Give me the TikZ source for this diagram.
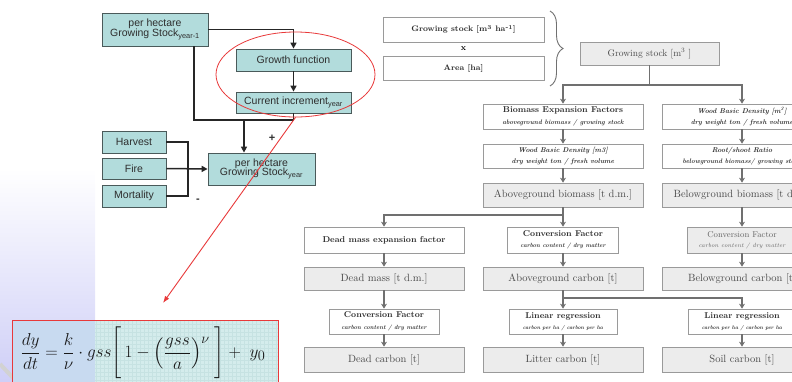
\documentclass[tikz,border=0pt]{standalone}
\usepackage{fontspec}
\usepackage{amsmath}
\newfontfamily\lsans{Liberation Sans}
\usetikzlibrary{arrows.meta,shapes.geometric,decorations.pathreplacing,calc}
\definecolor{tealf}{HTML}{B2DCDC}
\definecolor{tealb}{HTML}{4A5A5A}
\definecolor{gfill}{HTML}{ECECEC}
\definecolor{gline}{HTML}{9A9A9A}
\definecolor{garrc}{HTML}{707070}
\definecolor{txt}{HTML}{2E2E2E}
\definecolor{gtxt}{HTML}{4A4A4A}
\definecolor{cftxt}{HTML}{666666}
\definecolor{lav}{HTML}{CFCFF7}
\definecolor{fmlf}{HTML}{D4ECEC}
\definecolor{fmlg}{HTML}{C6E2E2}
\definecolor{fmlb}{HTML}{C8DAF0}
\definecolor{redl}{HTML}{E8393A}
\newcommand\fs[1]{\fontsize{#1}{#1}\selectfont}
\begin{document}
\begin{tikzpicture}[x=1pt,y=-1pt,
 tbox/.style={draw=tealb,fill=tealf,line width=0.8pt,inner sep=0pt,align=center,text=txt,font=\lsans\fs{10.5}},
 wbox/.style={draw=gline,fill=white,line width=0.7pt,inner sep=0pt,align=center,text=txt},
 gbox/.style={draw=gline,fill=gfill,line width=0.7pt,inner sep=0pt,align=center,text=gtxt,font=\fs{10.5}},
 blk/.style={line width=1.5pt,black!85},
 blka/.style={blk,-{Triangle[length=6pt,width=6pt]}},
 gl/.style={line width=1.2pt,garrc},
 ga/.style={gl,-{Stealth[length=5pt,width=6pt]}},
 bt/.style={font=\bfseries\fs{8.5}},
]
\useasboundingbox (0,0) rectangle (792,381);
\clip (0,0) rectangle (792,381);
% background strip
\shade[top color=white,bottom color=lav] (0,168) rectangle (95,381);
\draw[gray!35,line width=4pt] (0,364) -- (16,381);

% ---------- left flowchart ----------
\node[tbox,minimum width=106pt,minimum height=33pt] (gs1) at (155,29.5) {per hectare\\[-1pt]Growing Stock\textsubscript{year-1}};
\node[tbox,minimum width=115pt,minimum height=22pt] (gf) at (293.5,60) {Growth function};
\node[tbox,minimum width=115pt,minimum height=21pt] (ci) at (293.5,102.5) {Current increment\textsubscript{year}};
\node[tbox,minimum width=64pt,minimum height=22pt] (harv) at (134,142) {Harvest};
\node[tbox,minimum width=64pt,minimum height=21pt] (fire) at (134,168.5) {Fire};
\node[tbox,minimum width=64pt,minimum height=22pt] (mort) at (134,196) {Mortality};
\node[tbox,minimum width=107pt,minimum height=32pt] (gsy) at (261.5,169) {per hectare\\[-1pt]Growing Stock\textsubscript{year}};
\coordinate (jA) at (194,120);
\coordinate (jB) at (244,120);
\coordinate (jC) at (188,168.5);
\draw[blka] (gs1.east) -| (gf.north);
\draw[blka] (gf.south) -- (ci.north);
\draw[blk] (gs1.south -| jA) -- (jA) -- (ci.south |- jA) -- (ci.south);
\draw[blka] (jB) -- (gsy.north -| jB);
\draw[blk] (harv.east) -| (jC);
\draw[blk] (mort.east) -| (jC);
\draw[blka] (fire.east) -- (gsy.west);
\node[font=\lsans\bfseries\fs{11},text=txt] (plus) at (272,138) {+};
\node[font=\lsans\bfseries\fs{11},text=txt] (minus) at (198,201) {-};

% ---------- formula box ----------
\fill[fmlf] (12,320) rectangle (278,383);
\draw[fmlg,line width=0.3pt,step=4pt] (95,320) grid (278,383);
\fill[fmlb] (12,320) rectangle (95,383);
\draw[redl,line width=1pt] (12,320) rectangle (278,383);
\node[inner sep=0pt,text=black!90] (fml) at (143,353) {\fs{19}$\displaystyle \frac{dy}{dt}=\frac{k}{\nu}\cdot gss\Biggl[\,1-\left(\frac{gss}{a}\right)^{\nu}\;\Biggr]+\;y_0$};

% red ellipse and arrow
\node[draw=redl,line width=0.8pt,ellipse,minimum width=159pt,minimum height=85pt,inner sep=0pt] (oval) at (295.5,74.5) {};
\coordinate (rend) at (163,303);
\draw[redl,line width=0.9pt,-{Latex[length=7pt,width=5pt]}] (oval.south) -- (rend);

% ---------- right flowchart ----------
\node[wbox,minimum width=161pt,minimum height=25pt,font=\bfseries\fs{8}] (gsha) at (463.5,29.5) {Growing stock [m\textsuperscript{3} ha\textsuperscript{-1}]};
\node[bt] (xx) at (463.5,49) {x};
\node[wbox,minimum width=161pt,minimum height=24pt,font=\bfseries\fs{8}] (area) at (463.5,68) {Area [ha]};
\coordinate (br1) at (550,11);
\coordinate (br2) at (550,86);
\draw[gl,line width=0.9pt,decorate,decoration={brace,amplitude=13pt}] (br1) -- (br2);
\node[gbox,minimum width=139pt,minimum height=23pt,font=\fs{9.5}] (gsm) at (649.5,53.5) {Growing stock [m\textsuperscript{3} ]};

\node[wbox,minimum width=160pt,minimum height=25pt] (bef) at (563,116.5) {{\bfseries\fs{8.5}Biomass Expansion Factors}\\[-0.5pt]{\bfseries\itshape\fs{6.5}aboveground biomass / growing stock}};
\node[wbox,minimum width=160pt,minimum height=25pt] (wbd2) at (742,116.5) {{\bfseries\itshape\fs{7}Wood Basic Density [m\textsuperscript{3}]}\\[-0.5pt]{\bfseries\itshape\fs{6.8}dry weight ton / fresh volume}};
\node[wbox,minimum width=160pt,minimum height=24pt] (wbd1) at (563,156) {{\bfseries\itshape\fs{7}Wood Basic Density [m3]}\\[-0.5pt]{\bfseries\itshape\fs{6.8}dry weight ton / fresh volume}};
\node[wbox,minimum width=160pt,minimum height=24pt] (rsr) at (742,156) {{\bfseries\itshape\fs{7}Root/shoot Ratio}\\[-0.5pt]{\bfseries\itshape\fs{6.5}belowground biomass/ growing stock}};
\node[gbox,minimum width=160pt,minimum height=24pt] (agb) at (563,195) {Aboveground biomass [t d.m.]};
\node[gbox,minimum width=160pt,minimum height=24pt] (bgb) at (742,195) {Belowground biomass [t d.m.]};

\node[wbox,minimum width=160pt,minimum height=26pt,font=\bfseries\fs{8.5}] (dmef) at (384,240) {Dead mass expansion factor};
\node[wbox,minimum width=111pt,minimum height=26pt] (cfm) at (563,240) {{\bfseries\fs{8.5}Conversion Factor}\\[-0.5pt]{\bfseries\itshape\fs{6}carbon content / dry matter}};
\node[gbox,minimum width=110pt,minimum height=26pt,text=cftxt] (cfr) at (742,240) {{\fs{8.5}Conversion Factor}\\[-0.5pt]{\itshape\fs{6}carbon content / dry matter}};

\node[gbox,minimum width=160pt,minimum height=23pt] (dm) at (384,278.5) {Dead mass [t d.m.]};
\node[gbox,minimum width=160pt,minimum height=23pt] (agc) at (563,278.5) {Aboveground carbon [t]};
\node[gbox,minimum width=160pt,minimum height=23pt] (bgc) at (742,278.5) {Belowground carbon [t]};

\node[wbox,minimum width=110pt,minimum height=25pt] (cfd) at (384,321.5) {{\bfseries\fs{8.5}Conversion Factor}\\[-0.5pt]{\bfseries\itshape\fs{6}carbon content / dry matter}};
\node[wbox,minimum width=108pt,minimum height=25pt] (lrm) at (563,321.5) {{\bfseries\fs{8.5}Linear regression}\\[-0.5pt]{\bfseries\itshape\fs{5.3}carbon per ha / carbon per ha}};
\node[wbox,minimum width=108pt,minimum height=25pt] (lrr) at (742,321.5) {{\bfseries\fs{8.5}Linear regression}\\[-0.5pt]{\bfseries\itshape\fs{5.3}carbon per ha / carbon per ha}};

\node[gbox,minimum width=160pt,minimum height=25pt] (dc) at (384,359.5) {Dead carbon [t]};
\node[gbox,minimum width=160pt,minimum height=25pt] (lc) at (563,359.5) {Litter carbon [t]};
\node[gbox,minimum width=160pt,minimum height=25pt] (sc) at (742,359.5) {Soil carbon [t]};

% right connectors
\coordinate (j1) at (649.5,85);
\coordinate (j2) at (563,215);
\coordinate (j3) at (563,298);
\draw[gl] (gsm.south) -- (j1);
\draw[ga] (j1) -| (bef.north);
\draw[ga] (j1) -| (wbd2.north);
\draw[ga] (bef.south) -- (wbd1.north);
\draw[ga] (wbd1.south) -- (agb.north);
\draw[ga] (wbd2.south) -- (rsr.north);
\draw[ga] (rsr.south) -- (bgb.north);
\draw[ga] (agb.south) -- (cfm.north);
\draw[ga] (j2) -| (dmef.north);
\draw[ga] (bgb.south) -- (cfr.north);
\draw[ga] (dmef.south) -- (dm.north);
\draw[ga] (cfm.south) -- (agc.north);
\draw[ga] (cfr.south) -- (bgc.north);
\draw[ga] (dm.south) -- (cfd.north);
\draw[ga] (agc.south) -- (lrm.north);
\draw[ga] (j3) -| (lrr.north);
\draw[ga] (cfd.south) -- (dc.north);
\draw[ga] (lrm.south) -- (lc.north);
\draw[ga] (lrr.south) -- (sc.north);
\end{tikzpicture}
\end{document}
